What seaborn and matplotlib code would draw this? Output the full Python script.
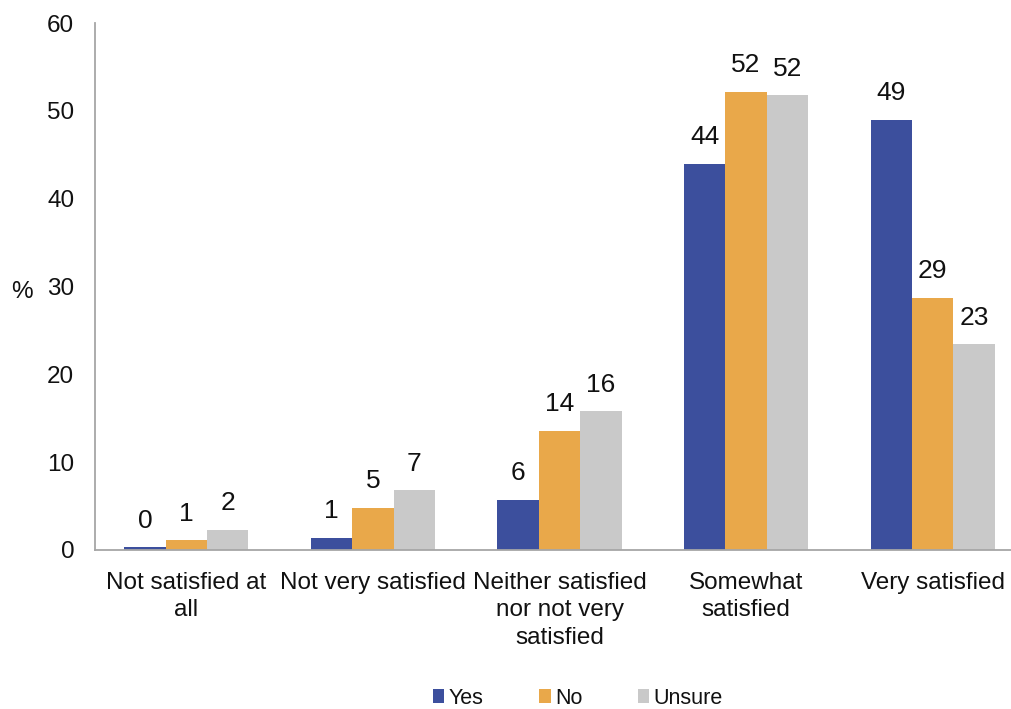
import matplotlib
matplotlib.use("Agg")
import matplotlib.pyplot as plt
import seaborn as sns
import pandas as pd

categories = ["Not satisfied at\nall", "Not very satisfied",
              "Neither satisfied\nnor not very\nsatisfied", "Somewhat\nsatisfied",
              "Very satisfied"]
series_names = ["Yes", "No", "Unsure"]
yes_values = [0.3, 1.4, 5.7, 44.0, 49.0]
no_values = [1.1, 4.8, 13.6, 52.2, 28.7]
unsure_values = [2.3, 6.8, 15.8, 51.8, 23.4]
y_ticks = [0, 10, 20, 30, 40, 50, 60]
colors = ["#3C4F9D", "#E9A84A", "#C9C9C9"]

rows = []
for name, vals in zip(series_names, [yes_values, no_values, unsure_values]):
    for c, v in zip(categories, vals):
        rows.append({"category": c, "series": name, "value": v})
df = pd.DataFrame(rows)

sns.set_style("white")
plt.rcParams["font.family"] = ["Liberation Sans", "DejaVu Sans"]
FS = 17.5

fig = plt.figure(figsize=(10.11, 7.09), dpi=100)
ax = fig.add_axes([95 / 1011, 159 / 709, (1011 - 95) / 1011, 527 / 709])

sns.barplot(data=df, x="category", y="value", hue="series", order=categories,
            hue_order=series_names, palette=colors, saturation=1, width=0.665,
            linewidth=0, ax=ax, errorbar=None)

# data labels
for cont in ax.containers:
    for bar in cont:
        h = bar.get_height()
        ax.annotate(f"{round(h):d}", (bar.get_x() + bar.get_width() / 2, h),
                    xytext=(0, 14), textcoords="offset points",
                    ha="center", va="baseline", fontsize=19, color="#111111")

ax.set_ylim(0, 60)
ax.set_xlim(-0.49, 4.42)
ax.set_yticks(y_ticks)
ax.set_yticklabels([str(t) for t in y_ticks], fontsize=FS)
ax.tick_params(axis="y", length=0, pad=15, colors="#111111")
ax.tick_params(axis="x", length=0, pad=15.5, labelsize=FS, colors="#111111")
for lab in ax.get_xticklabels():
    lab.set_linespacing(1.33)
    lab.set_ha("center")
ax.set_xlabel("")
ax.set_ylabel("%", rotation=0, fontsize=FS, va="center", ha="center", color="#111111")
ax.yaxis.set_label_coords(-0.0797, 0.49)

for s in ["top", "right"]:
    ax.spines[s].set_visible(False)
for s in ["left", "bottom"]:
    ax.spines[s].set_color("#A6A6A6")
    ax.spines[s].set_linewidth(1.3)

handles, labels = ax.get_legend_handles_labels()
if ax.legend_:
    ax.legend_.remove()
fig.legend(handles, labels, loc="center", bbox_to_anchor=(578 / 1011, 1 - 698 / 709),
           ncol=3, frameon=False, fontsize=15.5, handlelength=0.52, handleheight=0.6,
           handletextpad=0.2, columnspacing=2.6, labelcolor="#111111")

fig.savefig("out.png", dpi=100)
